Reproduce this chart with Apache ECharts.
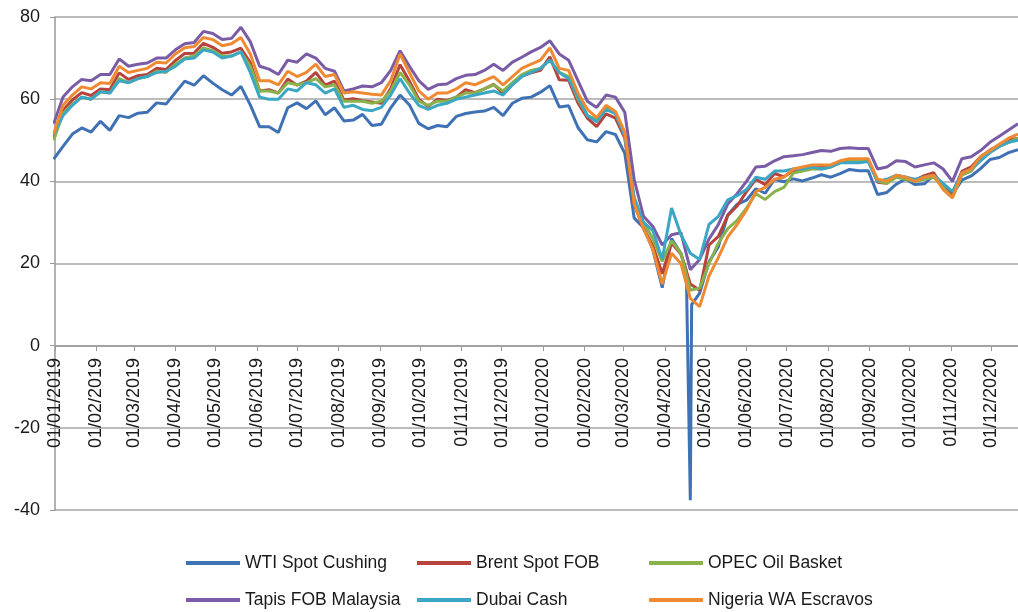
<!DOCTYPE html>
<html>
<head>
<meta charset="utf-8">
<style>
  html, body { margin: 0; padding: 0; background: #fff; }
  #chart { width: 1018px; height: 612px; }
</style>
<script src="https://cdn.jsdelivr.net/npm/echarts@6/dist/echarts.min.js"></script>
</head>
<body>
<div id="chart"></div>
<script>
// weekly (Monday) samples, first one is 31/12/2018
const weekCount = 104
const seriesNames = ['WTI Spot Cushing', 'Brent Spot FOB', 'OPEC Oil Basket', 'Tapis FOB Malaysia', 'Dubai Cash', 'Nigeria WA Escravos']
const seriesColors = ['#3f72b5', '#b8423c', '#8ab24a', '#7a5ba6', '#3ba7c4', '#ef8a33']

const wti = [
  45.4, 48.5, 51.5, 53.0, 52.0, 54.6, 52.4, 56.0, 55.5, 56.6, 56.8, 59.1, 58.8,
  61.6, 64.4, 63.4, 65.7, 63.9, 62.3, 61.0, 63.1, 58.6, 53.3, 53.3, 51.9, 57.9,
  59.1, 57.7, 59.6, 56.2, 57.9, 54.7, 54.9, 56.3, 53.6, 53.9, 57.9, 61.0, 58.6,
  54.1, 52.8, 53.6, 53.3, 55.8, 56.5, 56.9, 57.1, 58.0, 56.0, 59.0, 60.2, 60.5,
  61.7, 63.3, 58.1, 58.4, 53.1, 50.1, 49.6, 52.1, 51.4, 46.8, 31.1, 28.7, 23.4,
  14.1, 26.1, 22.4, -37.6, 12.8, 20.4, 24.1, 31.8, 34.4, 35.4, 38.2, 37.1, 40.5,
  39.9, 40.6, 40.1, 40.8, 41.6, 41.0, 41.9, 42.9, 42.6, 42.6, 36.8, 37.3, 39.3,
  40.6, 39.2, 39.4, 41.5, 38.6, 36.8, 40.3, 41.3, 43.1, 45.3, 45.8, 47.0, 47.7
]
// extra daily WTI quotes around the negative close
const wtiExtraDates = ['2020-04-17', '2020-04-21']
const wtiExtraValues = [18.3, 10.0]

const brent = [
  50.6, 57.3, 59.8, 61.6, 60.9, 62.5, 62.3, 66.4, 64.8, 65.7, 66.0, 67.5, 67.2,
  69.4, 71.1, 71.2, 73.6, 72.6, 71.2, 71.5, 72.4, 68.9, 62.0, 62.3, 61.5, 64.9,
  63.4, 64.4, 66.5, 63.4, 64.4, 59.8, 60.1, 59.6, 59.3, 59.0, 62.6, 68.4, 64.4,
  60.0, 58.2, 60.0, 59.7, 60.5, 62.3, 61.6, 62.5, 63.6, 61.4, 63.6, 65.6, 66.4,
  67.0, 70.3, 64.7, 64.6, 59.1, 55.4, 53.3, 56.4, 55.4, 50.5, 34.4, 28.5, 24.3,
  17.5, 25.0, 22.3, 15.0, 13.5, 24.5, 26.6, 31.7, 34.0, 37.5, 40.5, 39.2, 41.9,
  41.1, 42.6, 42.7, 43.6, 43.5, 43.6, 44.7, 45.3, 45.1, 45.3, 39.8, 39.5, 41.4,
  41.0, 40.3, 41.4, 42.1, 38.4, 37.0, 42.4, 43.5, 46.0, 47.6, 48.8, 50.2, 50.4
]

const opec = [
  50.0, 56.5, 58.8, 60.5, 60.0, 61.8, 61.5, 65.0, 64.0, 65.0, 65.5, 66.8, 66.5,
  68.5, 70.0, 70.5, 72.5, 71.8, 70.5, 70.5, 71.5, 68.0, 62.0, 62.0, 61.5, 64.0,
  63.5, 64.0, 65.0, 63.0, 63.5, 59.5, 59.5, 59.5, 59.0, 59.5, 62.0, 66.5, 63.5,
  59.5, 58.5, 59.5, 59.5, 60.5, 61.5, 61.5, 62.5, 63.5, 62.0, 64.0, 66.0, 67.0,
  67.5, 69.5, 66.5, 65.5, 60.0, 56.0, 55.0, 58.0, 56.5, 51.5, 36.0, 30.0, 26.0,
  20.5, 25.5, 22.5, 13.5, 14.0, 20.0, 25.0, 28.5, 30.5, 33.5, 37.0, 35.6, 37.5,
  38.5, 42.0, 42.5, 43.0, 43.0, 43.5, 44.5, 45.0, 45.0, 45.0, 40.0, 39.5, 41.0,
  40.5, 40.0, 40.5, 41.0, 38.5, 36.0, 41.5, 42.5, 45.5, 47.0, 48.5, 49.5, 50.5
]

const tapis = [
  54.0, 60.5, 63.0, 64.8, 64.5, 66.0, 66.0, 69.8, 68.0, 68.5, 68.8, 70.0, 70.0,
  72.0, 73.5, 73.8, 76.5, 76.0, 74.5, 74.8, 77.5, 74.0, 68.0, 67.3, 66.0, 69.5,
  69.0, 71.0, 70.0, 67.5, 66.8, 62.0, 62.5, 63.2, 63.0, 64.0, 67.0, 71.8, 68.0,
  64.5, 62.4, 63.5, 63.7, 65.0, 65.8, 66.0, 67.0, 68.5, 67.0, 69.0, 70.2, 71.5,
  72.6, 74.2, 71.0, 69.5, 64.5, 59.5, 58.0, 61.0, 60.5, 56.8, 40.5, 31.5, 29.0,
  24.5, 27.0, 27.5, 18.5, 21.0, 26.0, 29.5, 34.5, 37.0, 40.0, 43.5, 43.7, 45.0,
  46.0, 46.2, 46.5, 47.0, 47.5, 47.3, 48.0, 48.2, 48.0, 48.0, 43.0, 43.5, 45.0,
  44.8, 43.5, 44.0, 44.5, 43.0, 40.0, 45.5, 46.0, 47.5, 49.5, 51.0, 52.5, 54.0
]

const dubai = [
  51.5, 56.0, 58.5, 60.5, 60.0, 61.8, 61.5, 64.5, 64.0, 65.0, 65.5, 66.5, 66.8,
  68.0, 69.8, 70.0, 72.0, 71.5, 70.0, 70.5, 71.5, 66.5, 60.5, 60.0, 60.0, 62.5,
  62.0, 64.0, 63.5, 61.5, 62.5, 58.0, 58.5, 57.5, 57.2, 58.0, 61.0, 65.0, 61.5,
  58.5, 57.5, 58.5, 59.0, 60.0, 60.5, 61.0, 61.5, 62.0, 61.0, 63.5, 65.5, 66.5,
  67.5, 69.5, 66.5, 65.0, 60.5, 56.0, 54.5, 57.5, 56.5, 51.0, 36.0, 30.0, 28.0,
  21.0, 33.5, 27.0, 22.5, 21.0, 29.5, 31.5, 35.5, 36.5, 38.0, 41.0, 40.5, 42.5,
  42.5, 43.0, 43.0, 43.5, 43.0, 43.5, 44.5, 44.5, 44.5, 44.8, 40.0, 40.5, 41.5,
  41.0, 40.5, 41.0, 41.5, 39.5, 37.5, 42.0, 43.0, 45.0, 47.0, 48.5, 49.5, 50.0
]

const nigeria = [
  51.5, 58.5, 61.0, 63.0, 62.5, 64.0, 63.8, 68.0, 66.5, 67.0, 67.5, 69.0, 68.8,
  71.0, 72.5, 72.8, 75.0, 74.5, 73.0, 73.5, 75.0, 71.0, 64.5, 64.5, 63.5, 66.8,
  65.5, 66.5, 68.5, 65.5, 66.0, 61.5, 61.8, 61.5, 61.2, 61.0, 64.5, 71.0, 66.5,
  62.0, 60.0, 61.5, 61.5, 62.5, 64.0, 63.5, 64.5, 65.5, 63.5, 65.5, 67.5, 68.5,
  69.5, 72.5, 67.5, 67.0, 61.5, 57.5, 55.5, 58.5, 57.0, 52.0, 34.5, 28.5, 23.5,
  15.0, 22.5, 20.0, 11.5, 9.5, 17.0, 21.5, 26.5, 29.5, 33.0, 37.5, 38.5, 40.5,
  41.0, 43.0, 43.5, 44.0, 44.0, 44.0, 45.0, 45.5, 45.5, 45.5, 40.5, 40.0, 41.5,
  41.0, 40.0, 41.0, 41.5, 38.0, 36.0, 42.0, 43.0, 46.0, 47.5, 49.0, 50.5, 51.5
]

const yTicks = [-40, -20, 0, 20, 40, 60, 80]

const toTime = (s) => {
  const p = s.split('-')
  return new Date(+p[0], +p[1] - 1, +p[2]).getTime()
}

const weekDates = []
for (let i = 0; i < weekCount; i++) {
  weekDates.push(new Date(2018, 11, 31 + 7 * i).getTime())
}

// month starts for ticks and labels
const monthStarts = []
for (let m = 0; m < 24; m++) {
  monthStarts.push(new Date(2019, m, 1).getTime())
}

const pad = (n) => String(n).padStart(2, '0')
const fmtDate = (v) => {
  const d = new Date(v)
  return pad(d.getDate()) + '/' + pad(d.getMonth() + 1) + '/' + d.getFullYear()
}

const pairs = (values) => weekDates.map((t, i) => [t, values[i]])

const wtiData = pairs(wti)
  .concat(wtiExtraDates.map((d, i) => [toTime(d), wtiExtraValues[i]]))
  .sort((a, b) => a[0] - b[0])

const allData = [wtiData, pairs(brent), pairs(opec), pairs(tapis), pairs(dubai), pairs(nigeria)]

const font = 'Liberation Sans, Arial, sans-serif'
const gridColor = '#a6a6a6'

// one legend per slot: 3 columns x 2 rows like the original
const legendSlots = [[186, 553], [417, 553], [649, 553], [186, 590], [417, 590], [649, 590]]

const option = {
  animation: false,
  backgroundColor: '#fff',
  grid: {
    left: 55,
    right: 0,
    top: 17,
    bottom: 102,
    containLabel: false,
    outerBoundsMode: 'none'
  },
  legend: seriesNames.map((name, i) => ({
    left: legendSlots[i][0],
    top: legendSlots[i][1],
    padding: 0,
    icon: 'rect',
    itemWidth: 54,
    itemHeight: 4,
    data: [name],
    textStyle: { fontFamily: font, fontSize: 17.5, color: '#1a1a1a', lineHeight: 20 }
  })),
  xAxis: {
    type: 'value',
    min: new Date(2019, 0, 1).getTime(),
    max: new Date(2020, 11, 21).getTime(),
    // axis drawn on the zero line
    offset: -164,
    axisLine: { onZero: false, lineStyle: { color: '#999', width: 1.5 } },
    axisTick: {
      show: true,
      customValues: monthStarts,
      length: 5,
      lineStyle: { color: '#999' }
    },
    axisLabel: {
      customValues: monthStarts,
      rotate: 90,
      margin: 12,
      fontFamily: font,
      fontSize: 18,
      color: '#1a1a1a',
      formatter: (v) => fmtDate(v)
    },
    splitLine: { show: false }
  },
  yAxis: {
    type: 'value',
    min: -40,
    max: 80,
    interval: 20,
    axisLine: { show: true, lineStyle: { color: '#999', width: 1.5 } },
    axisTick: { show: true, length: 5, lineStyle: { color: '#999' } },
    axisLabel: {
      margin: 15,
      fontFamily: font,
      fontSize: 18,
      color: '#1a1a1a',
      customValues: yTicks
    },
    splitLine: { show: true, lineStyle: { color: gridColor, width: 1.5 } }
  },
  series: seriesNames.map((name, i) => ({
    name: name,
    type: 'line',
    data: allData[i],
    showSymbol: false,
    color: seriesColors[i],
    lineStyle: { width: 3, color: seriesColors[i] },
    clip: true
  }))
}

const chart = echarts.init(document.getElementById('chart'))
chart.setOption(option)
</script>
</body>
</html>
